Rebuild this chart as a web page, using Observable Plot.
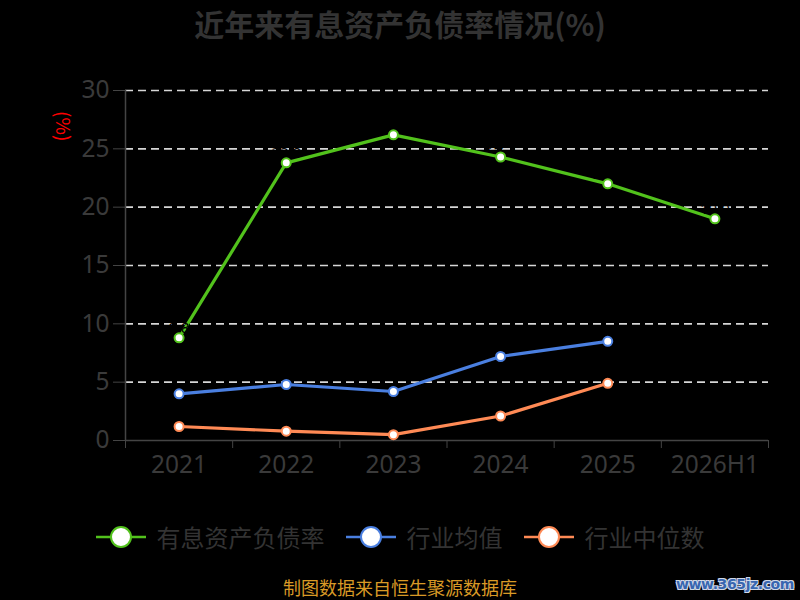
<!DOCTYPE html>
<html>
<head>
<meta charset="utf-8">
<script src="https://cdn.jsdelivr.net/npm/d3@7"></script>
<script src="https://cdn.jsdelivr.net/npm/@observablehq/plot@0.6"></script>
<style>
  html, body { margin: 0; padding: 0; background: #000; }
  #wrap { position: relative; width: 800px; height: 600px; background: #000; overflow: hidden;
          font-family: "Noto Sans CJK SC", "Noto Sans", sans-serif; }
  #title { position: absolute; left: 0; top: 2px; width: 800px; text-align: center;
           font-size: 30px; font-weight: bold; color: #333; line-height: 42px; }
  #chart { position: absolute; left: 0; top: 48px; }
  #unit { position: absolute; left: 50px; top: 115px; color: #f00; font-size: 19px;
          transform: rotate(90deg); transform-origin: center; line-height: 20px; width: 28px; text-align: center; }
  #legend { position: absolute; left: 0; top: 518px; width: 800px; display: flex;
            justify-content: center; gap: 21px; font-size: 24px; color: #333; line-height: 38px; }
  .item { display: flex; align-items: center; gap: 11px; }
  #caption { position: absolute; left: 0; top: 577px; width: 800px; text-align: center;
             font-size: 18px; color: #D99A26; line-height: 20px; }
  #mark { position: absolute; left: 676px; top: 575px; font-family: "DejaVu Sans", sans-serif;
          font-weight: bold; font-size: 14px; color: #3866b0; letter-spacing: -0.4px; line-height: 18px;
          text-shadow: -1px -1px 0 #cfd8e8, 1px -1px 0 #cfd8e8, -1px 1px 0 #cfd8e8, 1px 1px 0 #cfd8e8; }
</style>
</head>
<body>
<div id="wrap">
  <div id="title"></div>
  <div id="chart"></div>
  <div id="unit">(%)</div>
  <div id="legend"></div>
  <div id="caption"></div>
  <div id="mark">www.365jz.com</div>
</div>
<script>
const titleText = "近年来有息资产负债率情况(%)";
const captionText = "制图数据来自恒生聚源数据库";
const categories = ["2021", "2022", "2023", "2024", "2025", "2026H1"];
const debtRatio = [8.8, 23.8, 26.2, 24.3, 22.0, 19.0];
const industryMean = [4.0, 4.8, 4.2, 7.2, 8.5];
const industryMedian = [1.2, 0.8, 0.5, 2.1, 4.9];
const yTicks = [0, 5, 10, 15, 20, 25, 30];
const seriesNames = ["有息资产负债率", "行业均值", "行业中位数"];
const seriesColors = ["#52C21C", "#4A7FE0", "#FF8A55"];

document.getElementById("title").textContent = titleText;
document.getElementById("caption").textContent = captionText;

const toRows = (vals) => vals.map((v, i) => ({ x: i + 0.5, cat: categories[i], v }));
const seriesData = [debtRatio, industryMean, industryMedian].map(toRows);

const marks = [
  Plot.ruleY(yTicks.filter(t => t > 0), { stroke: "#d6d6d6", strokeWidth: 1.6, strokeDasharray: "8,5" }),
  Plot.ruleX([0], { stroke: "#444", strokeWidth: 1.5 }),
  Plot.ruleY([0], { stroke: "#444", strokeWidth: 1.5 }),
  Plot.axisY({ ticks: yTicks, label: null, tickSize: 12, tickPadding: 4, fontSize: 24.5, stroke: "#444", fill: "#3a3a3a", tickFormat: d => String(d) }),
  Plot.axisX({ ticks: d3.range(0, categories.length + 1), label: null, tickSize: 8, stroke: "#444", tickFormat: () => "" }),
  Plot.axisX({ ticks: categories.map((c, i) => i + 0.5), label: null, tickSize: 0, tickPadding: 15, fontSize: 24.5, fill: "#3a3a3a",
               tickFormat: v => categories[Math.round(v - 0.5)] })
];
seriesData.forEach((rows, k) => {
  marks.push(Plot.line(rows, { x: "x", y: "v", stroke: seriesColors[k], strokeWidth: 3.2 }));
});
marks.push(Plot.text(seriesData[0], { x: "x", y: "v", text: d => d.v.toFixed(1), dy: -10, fill: "#000", fontSize: 15 }));
seriesData.forEach((rows, k) => {
  marks.push(Plot.dot(rows, { x: "x", y: "v", r: 4.5, fill: "#fff", stroke: seriesColors[k], strokeWidth: 2 }));
});

const chart = Plot.plot({
  width: 800,
  height: 460,
  marginLeft: 125,
  marginRight: 32,
  marginTop: 42,
  marginBottom: 68,
  x: { type: "linear", domain: [0, categories.length] },
  y: { domain: [0, 30] },
  style: { background: "transparent", color: "#3a3a3a", fontFamily: "Noto Sans, Noto Sans CJK SC, sans-serif" },
  marks
});
document.getElementById("chart").appendChild(chart);

const legend = document.getElementById("legend");
seriesNames.forEach((name, k) => {
  const item = document.createElement("div");
  item.className = "item";
  const c = seriesColors[k];
  item.innerHTML = `<svg width="50" height="24" viewBox="0 0 50 24"><line x1="0" y1="12" x2="50" y2="12" stroke="${c}" stroke-width="2.5"/><circle cx="25" cy="12" r="10" fill="#fff" stroke="${c}" stroke-width="2"/></svg>`;
  const span = document.createElement("span");
  span.textContent = name;
  item.appendChild(span);
  legend.appendChild(item);
});
</script>
</body>
</html>
